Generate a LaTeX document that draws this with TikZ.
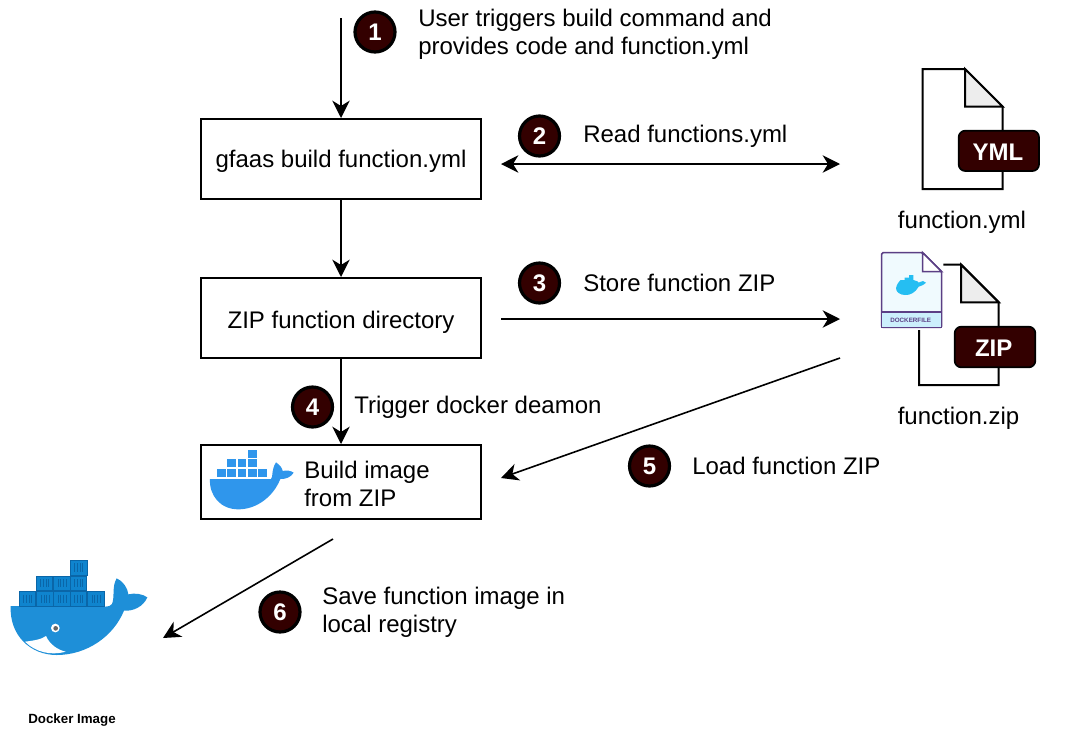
\documentclass[tikz,border=0pt]{standalone}
\usepackage{fontspec}
\setmainfont{Liberation Sans}
\usetikzlibrary{arrows.meta}
\definecolor{badge}{HTML}{330000}
\definecolor{whaleblue}{HTML}{1E8FD8}
\definecolor{whaledark}{HTML}{0F84CE}
\definecolor{contedge}{HTML}{0A66A8}
\definecolor{smallblue}{HTML}{2F96EC}
\definecolor{lightblue}{HTML}{25BEF2}
\definecolor{filepurple}{HTML}{5B3F85}
\tikzset{
  x=0.75pt,y=-0.75pt,
  lbl/.style={font=\fontsize{18pt}{21pt}\selectfont,anchor=west,align=left,inner sep=0pt,text=black},
  boxnode/.style={draw=black,line width=1.5pt,fill=white,minimum width=210pt,inner sep=0pt,font=\fontsize{18pt}{21pt}\selectfont},
  conn/.style={line width=1.2pt,-{Stealth[length=13pt,width=13pt,inset=4pt]}},
  dconn/.style={line width=1.2pt,{Stealth[length=13pt,width=13pt,inset=4pt]}-{Stealth[length=13pt,width=13pt,inset=4pt]}},
  stepnum/.style={circle,draw=black,fill=badge,line width=2.4pt,minimum size=30pt,inner sep=0pt,text=white,font=\fontsize{18pt}{20pt}\selectfont\bfseries},
  docline/.style={draw=black,line width=1.5pt,fill=white,line join=miter},
  foldline/.style={draw=black,line width=1.5pt,fill=black!7},
  typebadge/.style={draw=black,line width=1.3pt,fill=badge,rounded corners=5pt,text=white},
  badgetext/.style={text=white,font=\fontsize{18pt}{20pt}\selectfont\bfseries,inner sep=0pt},
  cont/.style={fill=whaledark,draw=contedge,line width=0.5pt},
  slat/.style={draw=contedge,line width=0.35pt},
}
\begin{document}
\begin{tikzpicture}
\useasboundingbox (0,0) rectangle (1084,740);
\fill[white] (0,0) rectangle (1084,740);

% boxes
\node[boxnode,minimum height=60pt,text height=17pt,text depth=4pt] (build) at (341,159) {gfaas build function.yml};
\node[boxnode,minimum height=60pt,text height=19pt,text depth=4pt] (zipdir) at (341,318) {ZIP function directory};
\node[boxnode,minimum height=55.5pt] (image) at (341,482) {};
\node[lbl] (imagetxt) at (304,483.5) {Build image\\from ZIP};

% free connector ends
\coordinate (start) at (341,18);
\coordinate (readL) at (501,164);
\coordinate (readR) at (840,164);
\coordinate (storeL) at (501,319);
\coordinate (storeR) at (840,319);
\coordinate (loadS) at (840,358);
\coordinate (loadE) at (501,478);
\coordinate (saveS) at (333,539);
\coordinate (saveE) at (163,638);

\draw[conn] (start) -- (build.north);
\draw[conn] (build) -- (zipdir);
\draw[conn] (zipdir) -- (image);
\draw[dconn] (readL) -- (readR);
\draw[conn] (storeL) -- (storeR);
\draw[conn] (loadS) -- (loadE);
\draw[conn] (saveS) -- (saveE);

% step circles
\node[stepnum] (s1) at (375,32) {1};
\node[stepnum] (s2) at (539.5,136) {2};
\node[stepnum] (s3) at (539.5,283) {3};
\node[stepnum] (s4) at (312.5,407) {4};
\node[stepnum] (s5) at (649.5,466) {5};
\node[stepnum] (s6) at (280,612) {6};

% labels
\node[lbl] (t1) at (418,34) {User triggers build command and\\provides code and function.yml};
\node[lbl] (t2) at (583,136) {Read functions.yml};
\node[lbl] (t3) at (583,283) {Store function ZIP};
\node[lbl] (t4) at (354,407) {Trigger docker deamon};
\node[lbl] (t5) at (692,466) {Load function ZIP};
\node[lbl] (t6) at (322,612) {Save function image in\\local registry};

% YML file
\begin{scope}[shift={(870,60)},x=0.25pt,y=-0.25pt]
\draw[docline] (158,27) -- (285,27) -- (398,140) -- (398,387) -- (158,387) -- cycle;
\draw[foldline] (285,27) -- (285,140) -- (398,140) -- cycle;
\draw[typebadge] (266,212) rectangle (507,333);
\node[badgetext] (ymlb) at (384,276) {YML};
\end{scope}
\node[lbl,anchor=center] (ymlname) at (962,222) {function.yml};

% ZIP file
\begin{scope}[shift={(870,240)},x=0.25pt,y=-0.25pt]
\draw[docline] (147,270) -- (147,435) -- (386,435) -- (386,187) -- (273,74) -- (220,74);
\draw[foldline] (273,74) -- (273,187) -- (386,187) -- cycle;
\draw[typebadge] (254,260) rectangle (496,382);
\node[badgetext] (zipb) at (371,325) {ZIP};
% dockerfile icon
\draw[draw=filepurple,line width=1.2pt,fill=cyan!6,rounded corners=1pt] (35,38) -- (158,38) -- (215,95) -- (215,262) -- (35,262) -- cycle;
\draw[draw=filepurple,line width=1.2pt,fill=cyan!20] (35,216) -- (215,216) -- (215,262) -- (35,262) -- cycle;
\draw[draw=filepurple,line width=1.2pt,fill=white] (158,38) -- (158,95) -- (215,95) -- cycle;
\fill[lightblue] (78,145) .. controls (80,132) and (88,124) .. (92,120) -- (104,120) -- (104,113) -- (117,113) -- (117,105) -- (130,105) -- (130,120) -- (142,124) .. controls (146,128) and (148,130) .. (150,126) .. controls (156,120) and (162,124) .. (168,128) .. controls (160,136) and (152,138) .. (146,140) .. controls (136,158) and (120,166) .. (105,165) .. controls (90,165) and (78,156) .. (78,145) -- cycle;
\node[text=filepurple,font=\fontsize{4.7pt}{5pt}\selectfont\bfseries,inner sep=0pt] (dockerlab) at (122,241) {DOCKERFILE};
\end{scope}
\node[lbl,anchor=center] (zipname) at (958.5,418) {function.zip};

% small whale in box
\begin{scope}[shift={(195,440)},x=0.25pt,y=-0.25pt]
\fill[smallblue] (45,117) -- (228,117) .. controls (235,112) and (228,90) .. (243,67) .. controls (255,75) and (262,85) .. (263,93) .. controls (275,90) and (288,92) .. (296,98) .. controls (288,112) and (270,118) .. (256,117) .. controls (235,170) and (185,208) .. (130,208) .. controls (75,208) and (42,165) .. (45,117) -- cycle;
\foreach \cx in {66,97,128,159,190} \fill[smallblue] (\cx,87) rectangle +(26,23);
\foreach \cx in {97,128,159} \fill[smallblue] (\cx,58) rectangle +(26,23);
\fill[smallblue] (159,30) rectangle +(26,23);
\end{scope}

% big whale
\begin{scope}[shift={(0,550)},x=0.25pt,y=-0.25pt]
\fill[whaleblue] (32,168) -- (315,170) .. controls (325,170) and (332,168) .. (336,162) .. controls (345,140) and (335,110) .. (350,85) .. controls (368,92) and (384,115) .. (385,133) .. controls (405,128) and (428,132) .. (442,142) .. controls (430,170) and (400,184) .. (372,182) .. controls (340,260) and (260,315) .. (170,315) .. controls (90,315) and (28,255) .. (32,168) -- cycle;
\fill[white] (75,275) .. controls (100,272) and (125,268) .. (138,258) .. controls (150,285) and (175,300) .. (197,305) .. controls (150,318) and (105,305) .. (75,275) -- cycle;
\fill[white] (166,234) circle (13);
\fill[black!60] (167,235) circle (7);
\foreach \cx in {57,110,160,210,262} {
  \draw[cont] (\cx,124) rectangle +(50,44);
  \foreach \dx in {14,22,30,38} \draw[slat] (\cx+\dx,134) -- (\cx+\dx,158);
}
\foreach \cx in {108,160,210} {
  \draw[cont] (\cx,78) rectangle +(50,44);
  \foreach \dx in {14,22,30,38} \draw[slat] (\cx+\dx,88) -- (\cx+\dx,112);
}
\draw[cont] (210,30) rectangle +(52,46);
\foreach \dx in {14,22,30,38} \draw[slat] (210+\dx,40) -- (210+\dx,66);
\end{scope}
\node[inner sep=0pt,font=\fontsize{10pt}{11pt}\selectfont\bfseries] (dockerimg) at (72,720.5) {Docker Image};
\end{tikzpicture}
\end{document}
